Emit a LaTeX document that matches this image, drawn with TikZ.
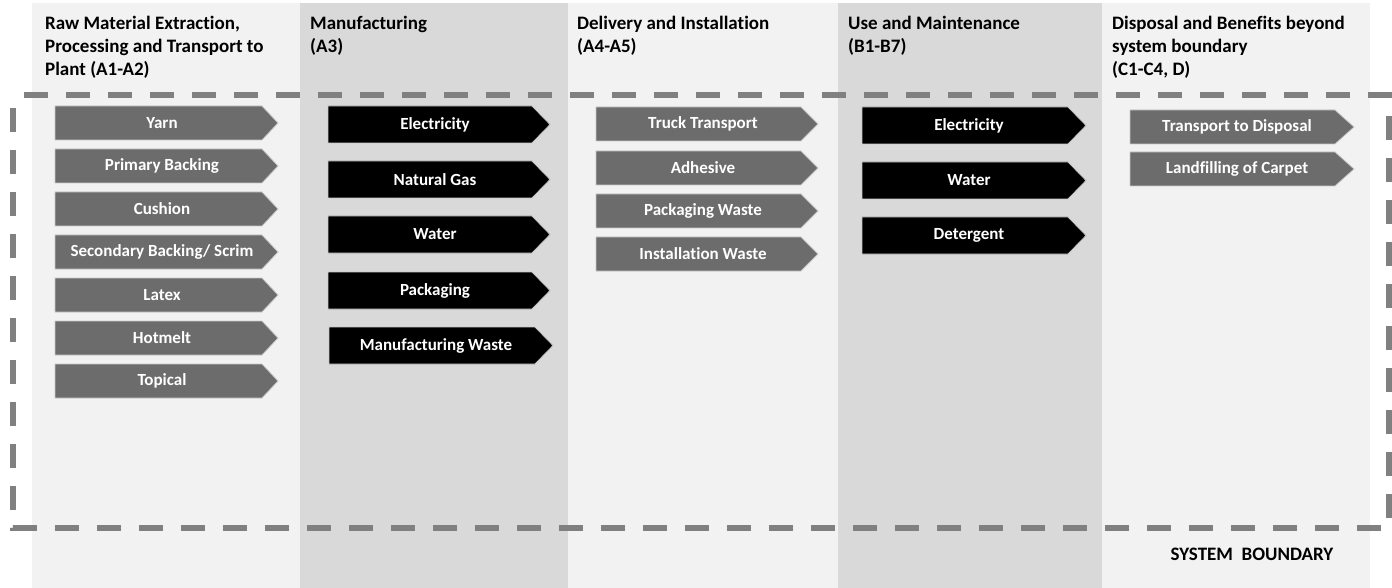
\documentclass[tikz,border=0pt]{standalone}
\usepackage{fontspec}
\setmainfont{Carlito}[Ligatures=NoCommon]
\definecolor{collight}{HTML}{F2F2F2}
\definecolor{coldark}{HTML}{D9D9D9}
\definecolor{arrgray}{HTML}{6C6C6C}
\definecolor{dashgray}{HTML}{808080}
\definecolor{edgegray}{HTML}{C8C8C8}
\tikzset{
  head/.style={anchor=base west, align=left, inner sep=0pt, text=black,
    font=\bfseries\fontsize{19}{23}\selectfont},
  chevtext/.style={inner sep=0pt, text=white, font=\bfseries\fontsize{17}{20}\selectfont},
  grayarrow/.style={fill=arrgray, draw=edgegray, line width=0.8pt},
  blackarrow/.style={fill=black, draw=edgegray, line width=0.8pt},
  boundary/.style={draw=dashgray, line width=5.5pt, dash pattern=on 24pt off 18pt, dash phase=29pt},
  sysb/.style={inner sep=0pt, text=black, font=\bfseries\fontsize{19}{23}\selectfont}
}
% style, name, left, top, body end, tip, height, text
\newcommand{\chev}[8]{%
  \path[#1] (#3,#4) -- (#5,#4) -- (#6,{#4+#7/2}) -- (#5,{#4+#7}) -- (#3,{#4+#7}) -- cycle;
  \node[chevtext] (#2) at ({#3+107},{#4+#7/2}) {#8};
}
\begin{document}
\begin{tikzpicture}[x=1pt,y=-1pt]
\useasboundingbox (0,0) rectangle (1392,588);
\fill[white] (0,0) rectangle (1392,588);
% columns
\fill[collight] (32,3) rectangle (300,588);
\fill[coldark] (300,3) rectangle (568,588);
\fill[collight] (568,3) rectangle (838,588);
\fill[coldark] (838,3) rectangle (1102,588);
\fill[collight] (1102,3) rectangle (1370,588);
% headings (base anchor = baseline of last line)
\node[head] (h1) at (45,76) {Raw Material Extraction,\\Processing and Transport to\\Plant (A1-A2)};
\node[head] (h2) at (310,53) {Manufacturing\\(A3)};
\node[head] (h3) at (577,53) {Delivery and Installation\\(A4-A5)};
\node[head] (h4) at (848,53) {Use and Maintenance\\(B1-B7)};
\node[head] (h5) at (1112,76) {Disposal and Benefits beyond\\system boundary\\(C1-C4, D)};
% system boundary
\draw[boundary] (13,95) rectangle (1389,528);
\node[sysb] (sb) at (1252,554) {SYSTEM\ \ BOUNDARY};
% column 1
\chev{grayarrow}{a1}{55}{106}{262}{278}{34}{Yarn}
\chev{grayarrow}{a2}{55}{149}{262}{278}{34}{Primary Backing}
\chev{grayarrow}{a3}{55}{192}{262}{278}{34}{Cushion}
\chev{grayarrow}{a4}{55}{235}{262}{278}{34}{Secondary Backing/ Scrim}
\chev{grayarrow}{a5}{55}{278}{262}{278}{34}{Latex}
\chev{grayarrow}{a6}{55}{321}{262}{278}{34}{Hotmelt}
\chev{grayarrow}{a7}{55}{364}{262}{278}{34}{Topical}
% column 2
\chev{blackarrow}{b1}{328}{106}{532}{550}{37}{Electricity}
\chev{blackarrow}{b2}{328}{161}{532}{550}{37}{Natural Gas}
\chev{blackarrow}{b3}{328}{216}{532}{550}{37}{Water}
\chev{blackarrow}{b4}{328}{272}{532}{550}{37}{Packaging}
\chev{blackarrow}{b5}{329}{327}{535}{553}{37}{Manufacturing Waste}
% column 3
\chev{grayarrow}{c1}{596}{107}{801}{818}{34}{Truck Transport}
\chev{grayarrow}{c2}{596}{151}{801}{818}{34}{Adhesive}
\chev{grayarrow}{c3}{596}{194}{801}{818}{34}{Packaging Waste}
\chev{grayarrow}{c4}{596}{237}{801}{818}{34}{Installation Waste}
% column 4
\chev{blackarrow}{d1}{862}{107}{1068}{1086}{37}{Electricity}
\chev{blackarrow}{d2}{862}{162}{1068}{1086}{37}{Water}
\chev{blackarrow}{d3}{862}{217}{1068}{1086}{37}{Detergent}
% column 5
\chev{grayarrow}{e1}{1130}{110}{1335}{1354}{34}{Transport to Disposal}
\chev{grayarrow}{e2}{1130}{152}{1335}{1354}{34}{Landfilling of Carpet}
\end{tikzpicture}
\end{document}
